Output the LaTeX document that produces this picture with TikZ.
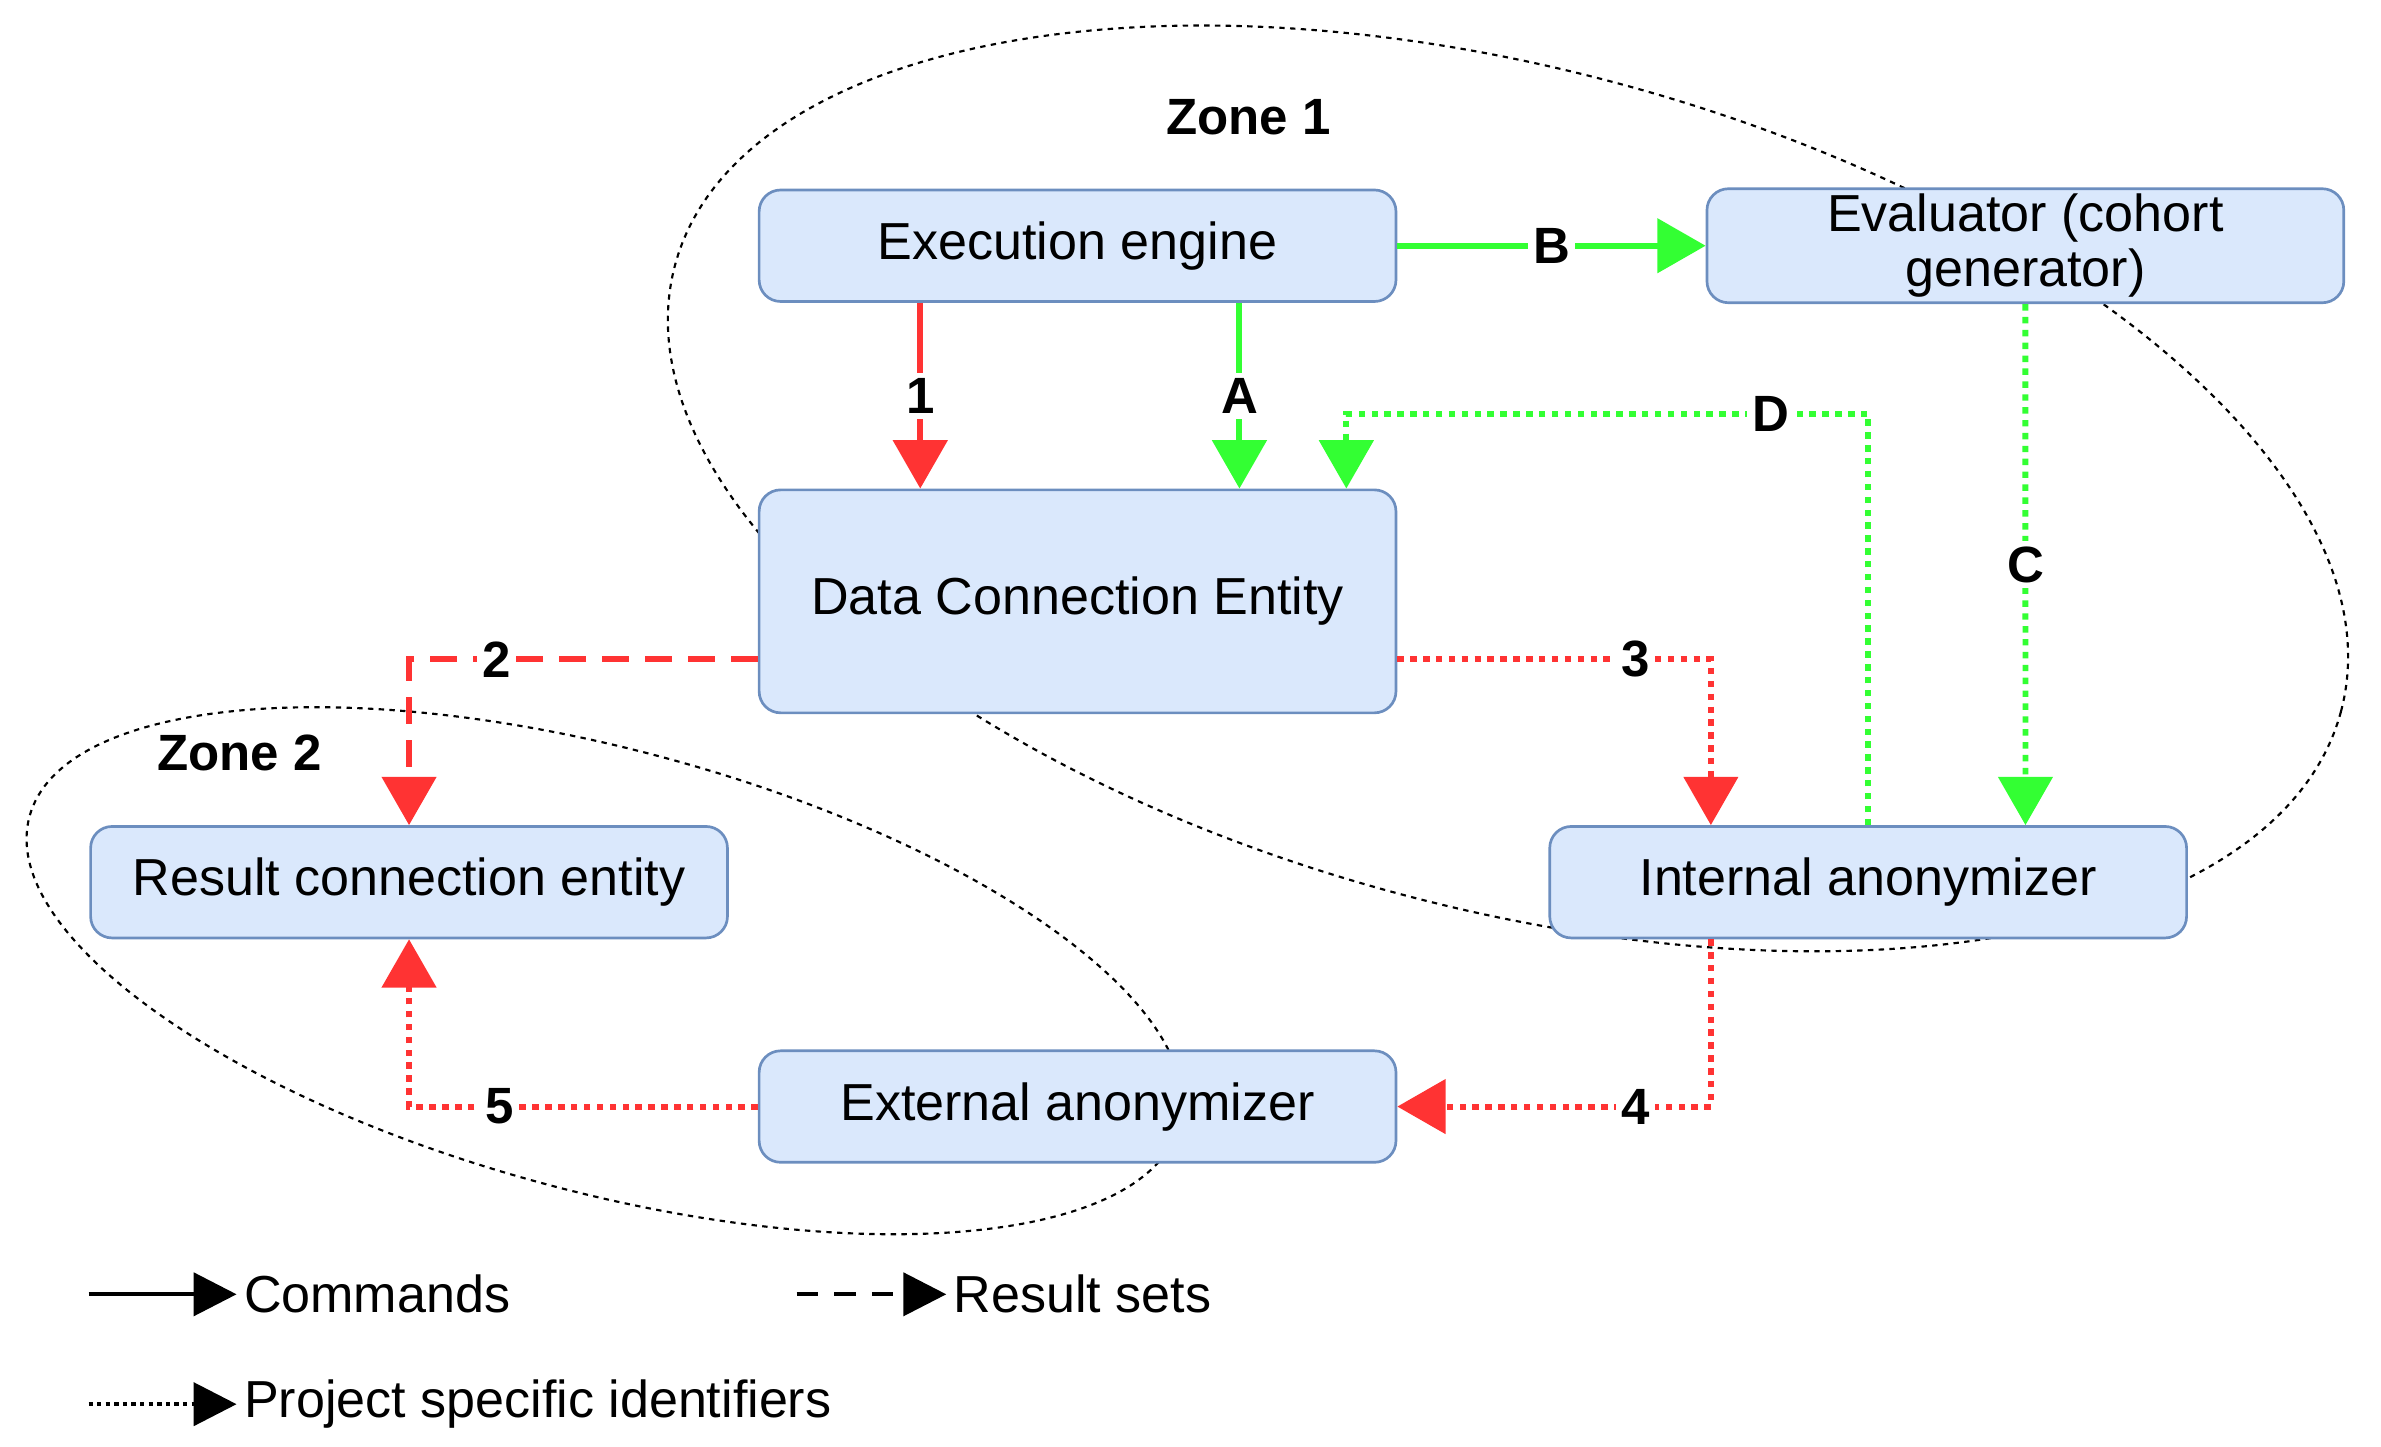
\documentclass[tikz,border=0pt]{standalone}
\usepackage{fontspec}
\setmainfont{Liberation Sans}
\usetikzlibrary{arrows.meta}
\definecolor{boxfill}{HTML}{DAE8FC}
\definecolor{boxline}{HTML}{6C8EBF}
\definecolor{rd}{HTML}{FF3333}
\definecolor{gr}{HTML}{33FF33}
\begin{document}
\begin{tikzpicture}[x=0.01cm,y=-0.01cm,
  box/.style={draw=boxline,fill=boxfill,rounded corners=4pt,line width=0.5pt,
    minimum width=4.17cm,minimum height=0.73cm,align=center,inner sep=1pt,
    font=\fontsize{9.7}{10.2}\selectfont},
  flow/.style={line width=1.1pt,-{Triangle[width=10pt,length=9pt]}},
  dots/.style={dash pattern=on 1.2pt off 1.2pt},
  lbl/.style={fill=white,text=black,inner sep=1pt,font=\fontsize{9.5}{10}\selectfont\bfseries},
  zone/.style={draw=black,line width=0.4pt,dash pattern=on 1pt off 1pt},
  legtxt/.style={right,inner sep=1pt,font=\fontsize{9.7}{10.2}\selectfont},
  leg/.style={line width=0.8pt,-{Triangle[width=8pt,length=8pt]}}]
\useasboundingbox (0,0) rectangle (1560,948);
% zones
\draw[zone] (988,320) ellipse[x radius=565,y radius=275,rotate=-15];
\draw[zone] (396,636) ellipse[x radius=390,y radius=145,rotate=-15];
\node[font=\fontsize{9.5}{10}\selectfont\bfseries] (z1) at (818,77) {Zone 1};
\node[font=\fontsize{9.5}{10}\selectfont\bfseries] (z2) at (157,493) {Zone 2};
% boxes
\node[box] (ee) at (706,161) {Execution engine};
\node[box] (ev) at (1327,161) {Evaluator (cohort\\generator)};
\node[box,minimum height=1.46cm] (dce) at (706,394) {Data Connection Entity};
\node[box] (rce) at (268,578) {Result connection entity};
\node[box] (ia) at (1224,578) {Internal anonymizer};
\node[box] (xa) at (706,725) {External anonymizer};
\coordinate (dY) at (0,271);
% connectors
\draw[flow,rd] ([xshift=-1.03cm]ee.south) -- node[lbl]{1} ([xshift=-1.03cm]dce.north);
\draw[flow,gr] ([xshift=1.06cm]ee.south) -- node[lbl]{A} ([xshift=1.06cm]dce.north);
\draw[flow,gr] (ee.east) -- node[lbl]{B} (ev.west);
\draw[flow,gr,dots] (ev.south) -- node[lbl,pos=0.5]{C} ([xshift=1.03cm]ia.north);
\draw[flow,gr,dots] (ia.north) -- (ia.north |- dY) -| node[lbl,pos=0.093]{D} ([xshift=1.76cm]dce.north);
\draw[flow,rd,dash pattern=on 5pt off 3pt] ([yshift=-0.38cm]dce.west) -| node[lbl,pos=0.374]{2} (rce.north);
\draw[flow,rd,dots] ([yshift=-0.38cm]dce.east) -| node[lbl,pos=0.38]{3} ([xshift=-1.03cm]ia.north);
\draw[flow,rd,dots] ([xshift=-1.03cm]ia.south) |- node[lbl,pos=0.62]{4} (xa.east);
\draw[flow,rd,dots] (xa.west) -| node[lbl,pos=0.37]{5} (rce.south);
% legend
\coordinate (l1a) at (58,848); \coordinate (l1b) at (155,848);
\coordinate (l2a) at (522,848); \coordinate (l2b) at (620,848);
\coordinate (l3a) at (58,920); \coordinate (l3b) at (155,920);
\draw[leg] (l1a) -- (l1b) node[legtxt] {Commands};
\draw[leg,dash pattern=on 4pt off 3pt] (l2a) -- (l2b) node[legtxt] {Result sets};
\draw[leg,dash pattern=on 0.8pt off 0.8pt] (l3a) -- (l3b) node[legtxt] {Project specific identifiers};
\end{tikzpicture}
\end{document}
